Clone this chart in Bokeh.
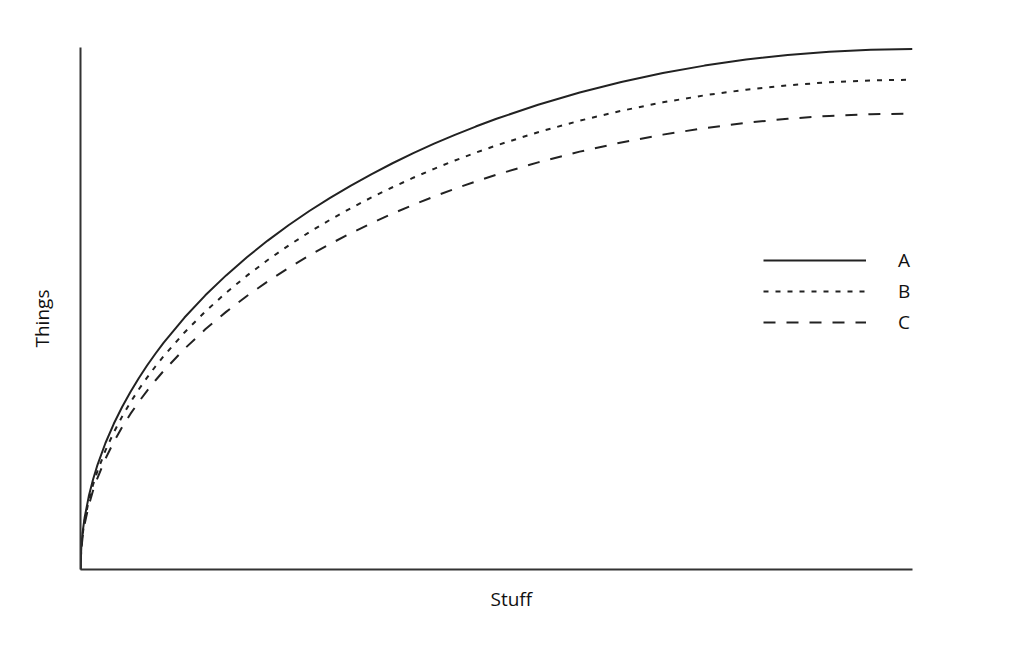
from bokeh.plotting import figure
from bokeh.models import Range1d, Legend, LegendItem, Title, FixedTicker
from bokeh.embed import file_html
from bokeh.resources import INLINE

stuff = [0, 0.1, 0.25, 0.5, 1, 1.5, 2, 3, 4, 5, 6, 7, 8, 9, 10, 12.5, 15, 17.5, 20, 22.5, 25,
         27.5, 30, 32.5, 35, 37.5, 40, 42.5, 45, 47.5, 50, 55, 60, 65, 70, 75, 80, 85, 90, 95, 100]
series_a = [0, 4.47, 7.07, 10.00, 14.11, 17.26, 19.90, 24.31, 28.00, 31.22, 34.12, 36.76, 39.19,
            41.46, 43.59, 48.41, 52.68, 56.51, 60.00, 63.20, 66.14, 68.88, 71.41, 73.78, 75.99,
            78.06, 80.00, 81.82, 83.52, 85.11, 86.60, 89.30, 91.65, 93.67, 95.39, 96.82, 97.98,
            98.87, 99.50, 99.87, 100.00]
series_b = [0, 4.21, 6.65, 9.41, 13.28, 16.24, 18.73, 22.88, 26.35, 29.38, 32.11, 34.59, 36.88,
            39.01, 41.02, 45.55, 49.57, 53.18, 56.46, 59.47, 62.24, 64.82, 67.20, 69.43, 71.51,
            73.45, 75.28, 76.99, 78.59, 80.09, 81.49, 84.03, 86.24, 88.14, 89.76, 91.11, 92.20,
            93.04, 93.63, 93.98, 94.10]
series_c = [0, 3.92, 6.19, 8.76, 12.36, 15.12, 17.43, 21.30, 24.53, 27.35, 29.89, 32.20, 34.33,
            36.32, 38.18, 42.41, 46.15, 49.50, 52.56, 55.36, 57.94, 60.34, 62.55, 64.63, 66.57,
            68.38, 70.08, 71.67, 73.16, 74.56, 75.86, 78.23, 80.29, 82.05, 83.56, 84.81, 85.83,
            86.61, 87.16, 87.49, 87.60]
names = ["A", "B", "C"]
x_title = "Stuff"
y_title = "Things"

FONT = "Open Sans"

p = figure(width=1000, height=630, output_backend="svg", toolbar_location=None,
           x_range=Range1d(0, 100), y_range=Range1d(0, 100.3),
           min_border_left=80, min_border_right=88, min_border_top=47, min_border_bottom=61)
p.grid.visible = False
p.outline_line_color = None
for ax in (p.xaxis[0], p.yaxis[0]):
    ax.ticker = FixedTicker(ticks=[])
    ax.major_tick_line_color = None
    ax.minor_tick_line_color = None
    ax.major_label_text_font_size = "0px"
    ax.axis_line_width = 2
    ax.axis_line_color = "#333333"

ra = p.line(stuff, series_a, line_color="#222222", line_width=2)
rb = p.line(stuff, series_b, line_color="#222222", line_width=2, line_dash="5 7")
rc = p.line(stuff, series_c, line_color="#222222", line_width=2, line_dash="12 11")

legend = Legend(items=[LegendItem(label=names[0], renderers=[ra]),
                       LegendItem(label=names[1], renderers=[rb]),
                       LegendItem(label=names[2], renderers=[rc])],
                location=(683, 232), glyph_width=103, glyph_height=30, label_height=30,
                label_standoff=32, spacing=1, padding=0, margin=0,
                border_line_color=None, background_fill_alpha=0,
                label_text_font=FONT, label_text_font_size="19px", label_text_color="#111111")
p.add_layout(legend, "center")

p.add_layout(Title(text=x_title, align="left", offset=410, standoff=29,
                   text_font=FONT, text_font_size="19px", text_font_style="normal",
                   text_color="#111111"), "below")
p.add_layout(Title(text=y_title, align="left", offset=222, standoff=52,
                   text_font=FONT, text_font_size="19px", text_font_style="normal",
                   text_color="#111111"), "left")

open("out.html", "w").write(file_html(p, INLINE))
